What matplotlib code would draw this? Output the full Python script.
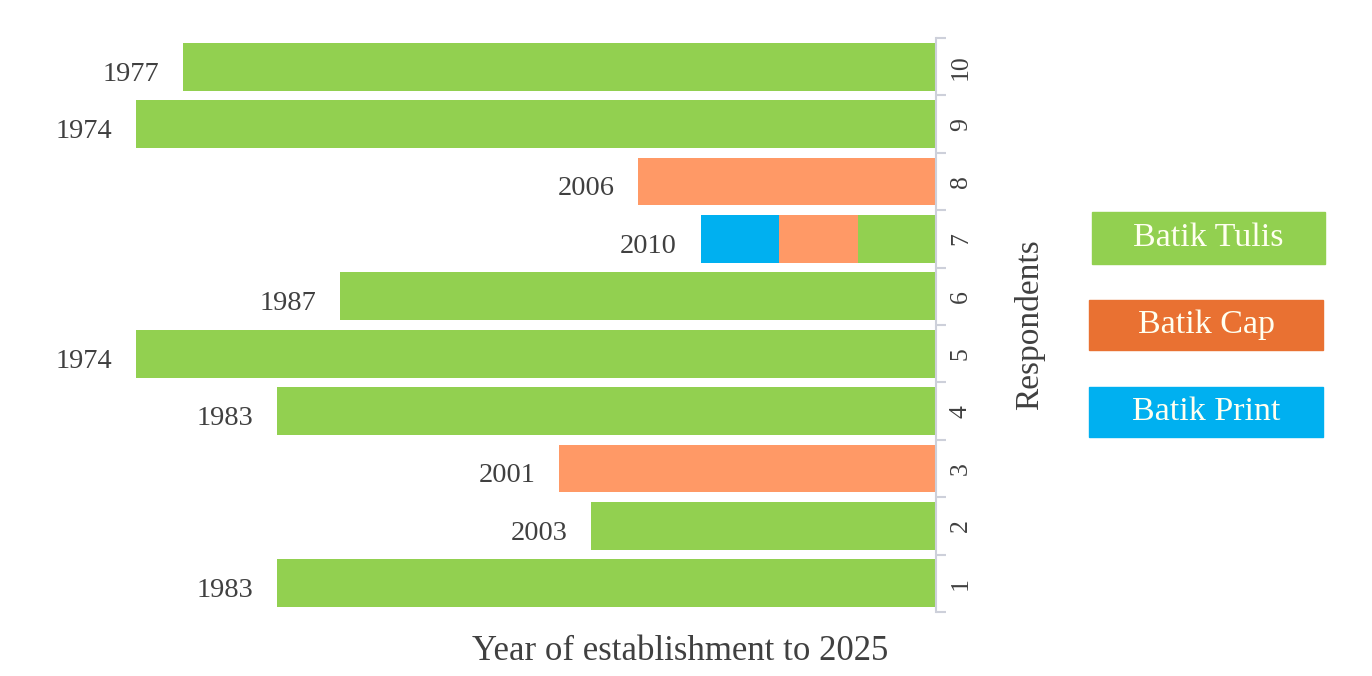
import matplotlib.pyplot as plt
from matplotlib.patches import Rectangle

plt.rcParams['font.family'] = ['Liberation Serif', 'DejaVu Serif']

END_YEAR = 2025
respondents = [1, 2, 3, 4, 5, 6, 7, 8, 9, 10]
established = [1983, 2003, 2001, 1983, 1974, 1987, 2010, 2006, 1974, 1977]
batik_type = ["Tulis", "Tulis", "Cap", "Tulis", "Tulis", "Tulis", "mixed", "Cap", "Tulis", "Tulis"]

# respondent 7 produces all three kinds
mixed_types = ["Print", "Cap", "Tulis"]
mixed_starts = [2010, 2015, 2020]

legend_names = ["Batik Tulis", "Batik Cap", "Batik Print"]
bar_colors = {"Tulis": "#92D050", "Cap": "#FF9966", "Print": "#00B0F0"}
legend_colors = ["#92D050", "#E97132", "#00B0F0"]

W, H = 1372, 676
fig = plt.figure(figsize=(W / 100, H / 100), dpi=100)
ax = fig.add_axes([40 / W, 1 - 612 / H, (936 - 40) / W, (612 - 38) / H])

bh = 0.83
for r, start, kind in zip(respondents, established, batik_type):
    if kind == "mixed":
        ends = mixed_starts[1:] + [END_YEAR]
        for t, s, e in zip(mixed_types, mixed_starts, ends):
            ax.barh(r, e - s, left=s, height=bh, color=bar_colors[t], edgecolor="none")
    else:
        ax.barh(r, END_YEAR - start, left=start, height=bh, color=bar_colors[kind], edgecolor="none")
    ax.text(start - 1.5, r - 0.13, str(start), ha="right", va="center", fontsize=20.5, color="#404040")

ax.set_xlim(1967.9, END_YEAR)
ax.set_ylim(0.5, 10.5)

for s in ["top", "left", "bottom"]:
    ax.spines[s].set_visible(False)
ax.spines["right"].set_color("#CDD0DA")
ax.spines["right"].set_linewidth(1.5)
ax.set_xticks([])

ax.yaxis.tick_right()
ax.set_yticks(respondents)
ax.set_yticklabels([str(r) for r in respondents], rotation=90, va="center",
                   fontsize=18.5, color="#404040")
ax.tick_params(axis="y", which="major", length=0, pad=10)
ax.set_yticks([i + 0.5 for i in range(0, 11)], minor=True)
ax.tick_params(axis="y", which="minor", length=7, width=1.5, color="#CDD0DA")

fig.text(1030 / W, 1 - 325 / H, "Respondents", rotation=90, ha="center", va="center",
         fontsize=24, color="#404040")
fig.text(680 / W, 1 - 652 / H, "Year of establishment to 2025", ha="center", va="center",
         fontsize=25, color="#404040")

# legend drawn as coloured boxes with white text
boxes = [(1092, 212, 233, 52), (1089, 300, 234, 50), (1089, 387, 234, 50)]
for name, col, (bx, by, bw, bhh) in zip(legend_names, legend_colors, boxes):
    fig.patches.append(Rectangle((bx / W, 1 - (by + bhh) / H), bw / W, bhh / H,
                                 transform=fig.transFigure, color=col))
    fig.text((bx + bw / 2) / W, 1 - (by + bhh / 2) / H, name, ha="center", va="center",
             fontsize=24.5, color="#FFFFF0")

fig.savefig("out.png", dpi=100)
